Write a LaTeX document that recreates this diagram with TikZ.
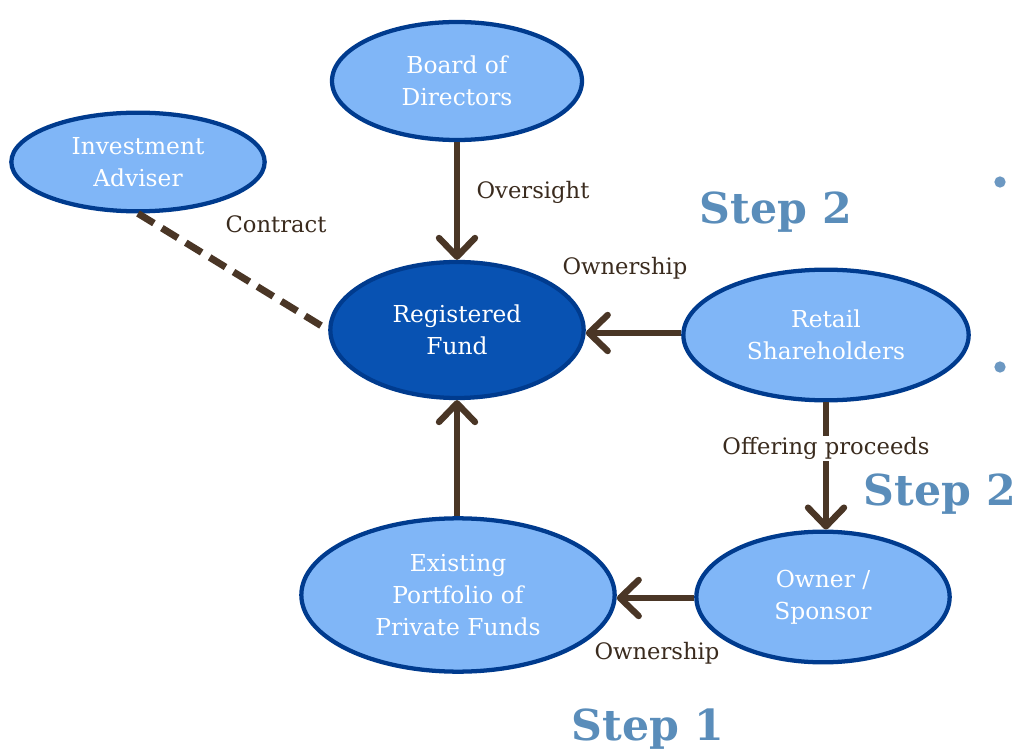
\documentclass[tikz,border=0pt]{standalone}
\usepackage{fontspec}
\setmainfont{DejaVu Serif}
\usetikzlibrary{arrows.meta,shapes.geometric}
\definecolor{lightfill}{HTML}{80B6F7}
\definecolor{darkfill}{HTML}{0852B2}
\definecolor{rim}{HTML}{003B8E}
\definecolor{brownline}{HTML}{4A3626}
\definecolor{labeltext}{HTML}{3A2B1E}
\definecolor{steptext}{HTML}{5A8DBA}
\definecolor{dotcol}{HTML}{6C98C2}
\tikzset{
  entity/.style={ellipse, draw=rim, line width=3.2pt, fill=lightfill, text=white, inner sep=0pt, align=center, font=\fontsize{17.5}{24}\selectfont},
  fundbox/.style={entity, fill=darkfill},
  flow/.style={draw=brownline, line width=4.8pt, -{Straight Barb[length=14pt,width=27pt,line width=4.8pt,round]}},
  contractline/.style={draw=brownline, line width=5.2pt, dash pattern=on 14pt off 7pt},
  lbl/.style={text=labeltext, font=\fontsize{17}{19}\selectfont, inner sep=1pt},
  steplbl/.style={text=steptext, font=\fontsize{32}{34}\selectfont\bfseries},
  dotmark/.style={circle, fill=dotcol, minimum size=8.5pt, inner sep=0pt}
}
\begin{document}
\begin{tikzpicture}[x=0.75pt,y=-0.75pt]
\useasboundingbox (0,0) rectangle (1015,756);
\node[entity, minimum width=187.5pt, minimum height=88.5pt] (board) at (457,81) {Board of\\Directors};
\node[entity, minimum width=190pt, minimum height=74pt] (adviser) at (138,162) {Investment\\Adviser};
\node[fundbox, minimum width=190pt, minimum height=102pt] (fund) at (457,330) {Registered\\Fund};
\node[entity, minimum width=214pt, minimum height=98pt] (retail) at (826,335) {Retail\\Shareholders};
\node[entity, minimum width=235pt, minimum height=115pt] (portfolio) at (458,595) {Existing\\Portfolio of\\Private Funds};
\node[entity, minimum width=190pt, minimum height=98pt] (owner) at (823,597) {Owner /\\Sponsor};

\draw[flow] (board.south) -- (fund.north);
\draw[flow] (retail.west |- 0,333) -- (fund.east |- 0,333);
\draw[flow] (portfolio.north -| 457,0) -- (fund.south -| 457,0);
\draw[flow] (owner.west |- 0,598) -- (portfolio.east |- 0,598);
\draw[flow] (retail.south -| 826,0) -- node[lbl, fill=white, pos=0.36] (offer) {Offering proceeds} (owner.north -| 826,0);
\draw[contractline] (adviser.south) -- (fund.west);

\node[lbl] (oversight) at (533,192) {Oversight};
\node[lbl] (contract) at (276,224) {Contract};
\node[lbl] (own1) at (625,268) {Ownership};
\node[lbl] (own2) at (657,653) {Ownership};

\node[steplbl] (s2a) at (776,212) {Step 2};
\node[steplbl] (s2b) at (940,494) {Step 2};
\node[steplbl] (s1) at (648,729) {Step 1};

\node[dotmark] (d1) at (1000,182) {};
\node[dotmark] (d2) at (1000,367) {};
\end{tikzpicture}
\end{document}
